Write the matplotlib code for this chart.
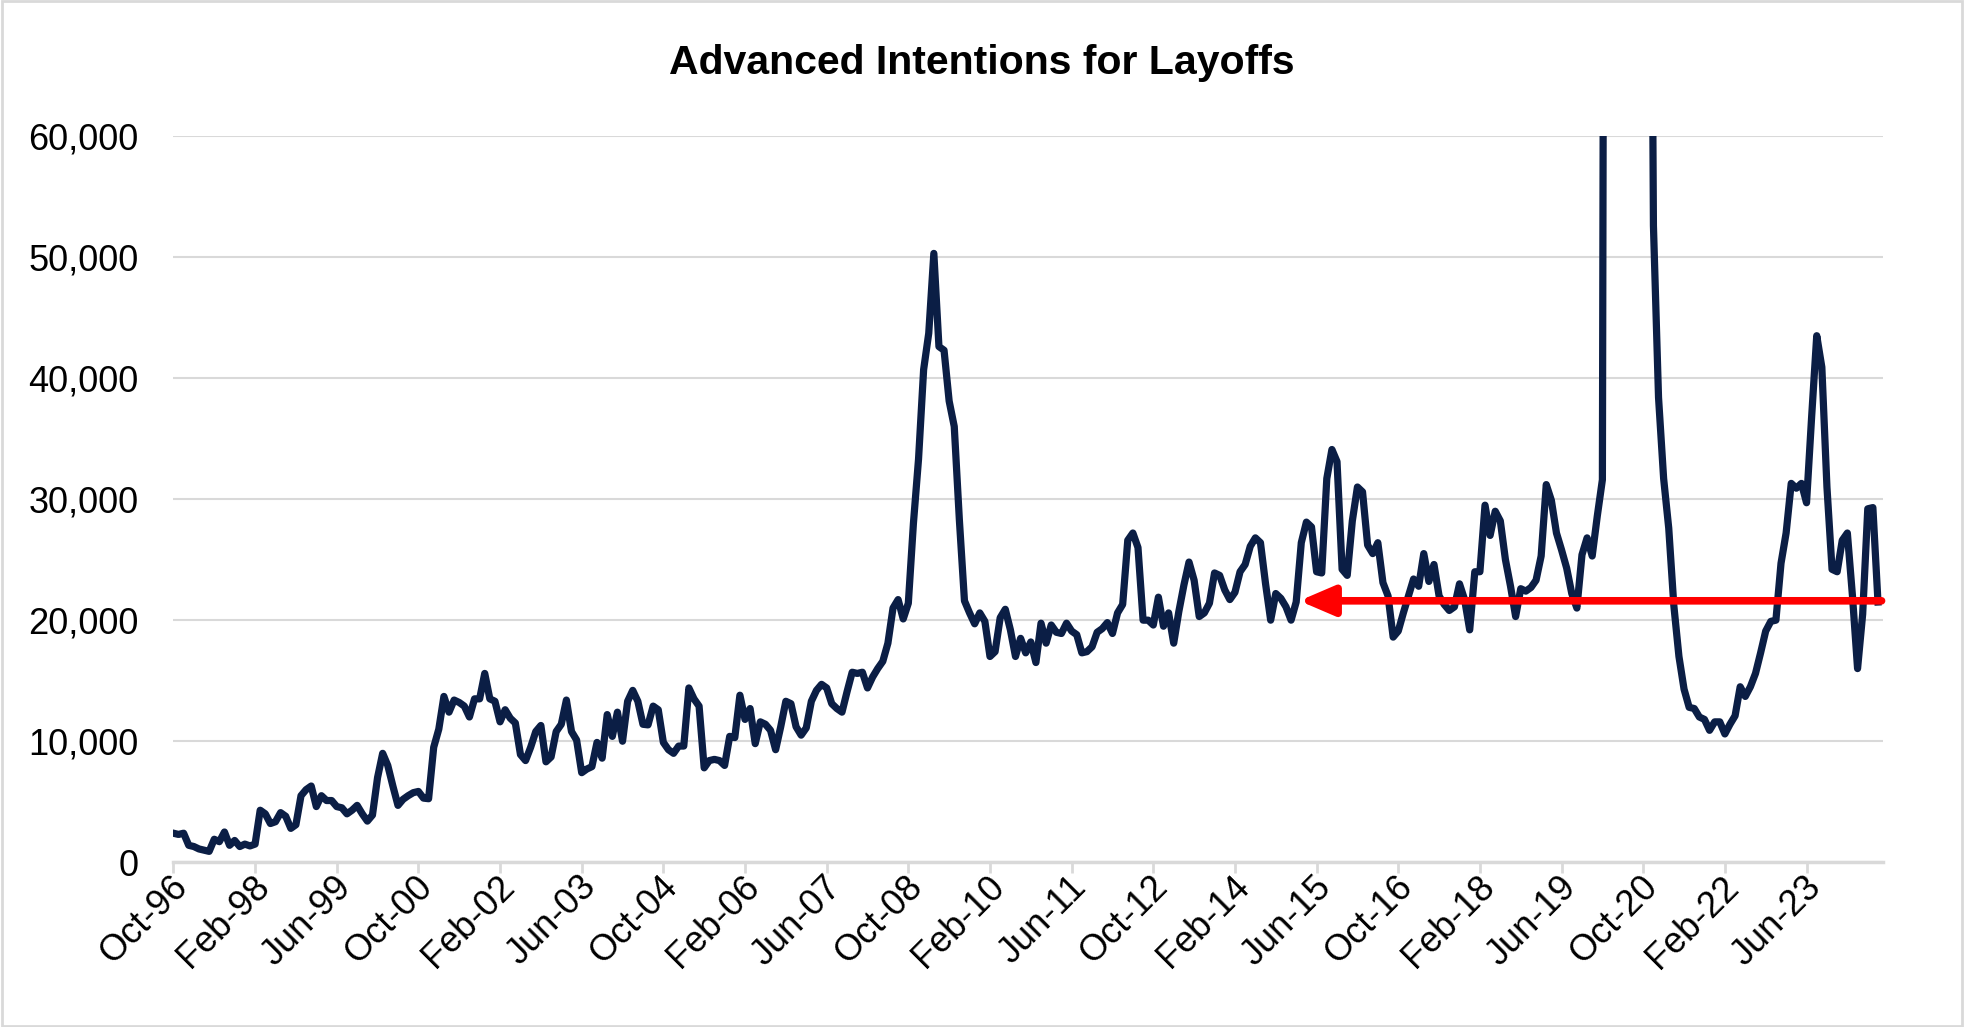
import matplotlib
matplotlib.use("Agg")
import matplotlib.pyplot as plt
import matplotlib.transforms as mtransforms
from matplotlib.patches import Rectangle
from matplotlib.ticker import FuncFormatter
import numpy as np
import pandas as pd

plt.rcParams['font.family'] = ['Liberation Sans', 'DejaVu Sans']

# monthly series, starting Oct-96 (values above 60,000 are cut off by the axis)
start_month = '1996-10-01'
layoffs = [
    2400, 2300, 2400, 1400, 1300, 1100, 1000, 900, 1900, 1700,
    2500, 1400, 1800, 1300, 1500, 1350, 1500, 4300, 4000, 3200,
    3350, 4100, 3800, 2800, 3100, 5500, 6000, 6300, 4600, 5500,
    5100, 5100, 4600, 4500, 4000, 4300, 4700, 4000, 3400, 3900,
    7000, 9000, 8000, 6300, 4700, 5200, 5500, 5750, 5850, 5300,
    5250, 9500, 11000, 13700, 12400, 13400, 13200, 12900, 12000, 13500,
    13500, 15600, 13500, 13300, 11600, 12600, 11900, 11500, 8900, 8400,
    9500, 10800, 11300, 8300, 8700, 10800, 11400, 13400, 10800, 10100,
    7400, 7700, 7900, 9900, 8600, 12200, 10400, 12400, 10000, 13300,
    14200, 13300, 11400, 11350, 12900, 12600, 9900, 9300, 9000, 9600,
    9600, 14400, 13500, 12900, 7800, 8400, 8500, 8400, 8000, 10400,
    10300, 13800, 11800, 12700, 9800, 11600, 11400, 10900, 9300, 11200,
    13300, 13100, 11200, 10500, 11100, 13300, 14200, 14700, 14400, 13100,
    12700, 12400, 14100, 15700, 15600, 15700, 14400, 15300, 16000, 16600,
    18100, 21000, 21700, 20100, 21400, 28000, 33300, 40700, 43700, 50300,
    42600, 42300, 38100, 36000, 28300, 21600, 20600, 19700, 20600, 19900,
    17000, 17400, 20200, 20900, 19200, 17000, 18500, 17300, 18200, 16500,
    19750, 18100, 19600, 19000, 18900, 19750, 19100, 18800, 17300, 17400,
    17800, 19000, 19300, 19800, 18900, 20600, 21300, 26600, 27200, 26000,
    20000, 20000, 19600, 21900, 19500, 20600, 18100, 20700, 22900, 24800,
    23300, 20300, 20600, 21400, 23900, 23700, 22500, 21700, 22300, 24000,
    24600, 26100, 26800, 26400, 23000, 20000, 22200, 21800, 21100, 20000,
    21500, 26400, 28100, 27700, 24000, 23900, 31700, 34100, 33100, 24200,
    23700, 28200, 31000, 30600, 26200, 25500, 26400, 23100, 22000, 18600,
    19100, 20600, 22000, 23400, 22800, 25500, 23200, 24600, 22000, 21300,
    20800, 21100, 23000, 21700, 19200, 24000, 24000, 29500, 27000, 29000,
    28200, 25000, 22800, 20300, 22600, 22400, 22700, 23300, 25300, 31200,
    29900, 27200, 25800, 24300, 22200, 21000, 25400, 26800, 25300, 28600,
    31600, 230000, 560000, 390000, 270000, 210000, 175000, 150000, 135000, 125000,
    52600, 38400, 31700, 27600, 21200, 17000, 14300, 12800, 12700, 12000,
    11800, 10900, 11600, 11600, 10600, 11400, 12100, 14500, 13700, 14500,
    15600, 17300, 19100, 19900, 20000, 24700, 27200, 31300, 30900, 31300,
    29700, 36800, 43500, 40900, 31000, 24200, 24000, 26600, 27200, 22000,
    16000, 20500, 29200, 29300, 21500,
]
arrow_level = 21600     # red reference arrow
arrow_tip_month = 220.6
tick_every = 16
y_ticks = [0, 10000, 20000, 30000, 40000, 50000, 60000]

months = pd.date_range(start_month, periods=len(layoffs), freq='MS')
x = np.arange(len(layoffs))

fig = plt.figure(figsize=(19.64, 10.27), dpi=100)
ax = fig.add_axes([0.0883, 0.1604, 0.9588 - 0.0883, 0.8676 - 0.1604])

ax.plot(x, layoffs, color='#0B1E45', lw=5.2, solid_joinstyle='round', zorder=3)

ax.set_xlim(0, len(layoffs))
ax.set_ylim(0, 60000)
ax.set_yticks(y_ticks)
ax.yaxis.set_major_formatter(FuncFormatter(lambda v, p: f"{int(v):,}"))
ax.grid(axis='y', color='#D9D9D9', lw=1.5)
ax.set_axisbelow(True)

tick_pos = x[::tick_every]
ax.set_xticks(tick_pos)
ax.set_xticklabels([m.strftime('%b-%y') for m in months[::tick_every]],
                   rotation=45, ha='right', va='center', rotation_mode='anchor')

for side in ['top', 'right', 'left']:
    ax.spines[side].set_visible(False)
ax.spines['bottom'].set_color('#D9D9D9')
ax.spines['bottom'].set_linewidth(2.5)
ax.tick_params(axis='y', length=0, labelsize=26, pad=25, colors='black')
ax.tick_params(axis='x', length=8, width=2, color='#D9D9D9', labelsize=26, pad=6)

# nudge rotated labels a bit to the right, like excel does
shift = mtransforms.ScaledTranslation(9 / 100, 0, fig.dpi_scale_trans)
for lab in ax.get_xticklabels():
    lab.set_transform(lab.get_transform() + shift)

# red arrow pointing back to 2015
ax.annotate('', xy=(arrow_tip_month, arrow_level), xytext=(len(layoffs) - 0.3, arrow_level),
            arrowprops=dict(arrowstyle='-|>,head_length=1.05,head_width=0.45',
                            mutation_scale=20, lw=5.5, color='#FF0000',
                            shrinkA=0, shrinkB=0), zorder=4)

fig.suptitle('Advanced Intentions for Layoffs', fontsize=29.5, fontweight='bold',
             y=0.9386, va='center')

# chart border
fig.patches.append(Rectangle((0.001, 0.001), 0.998, 0.998, transform=fig.transFigure,
                             fill=False, edgecolor='#D9D9D9', lw=2))

fig.savefig('out.png', dpi=100)
